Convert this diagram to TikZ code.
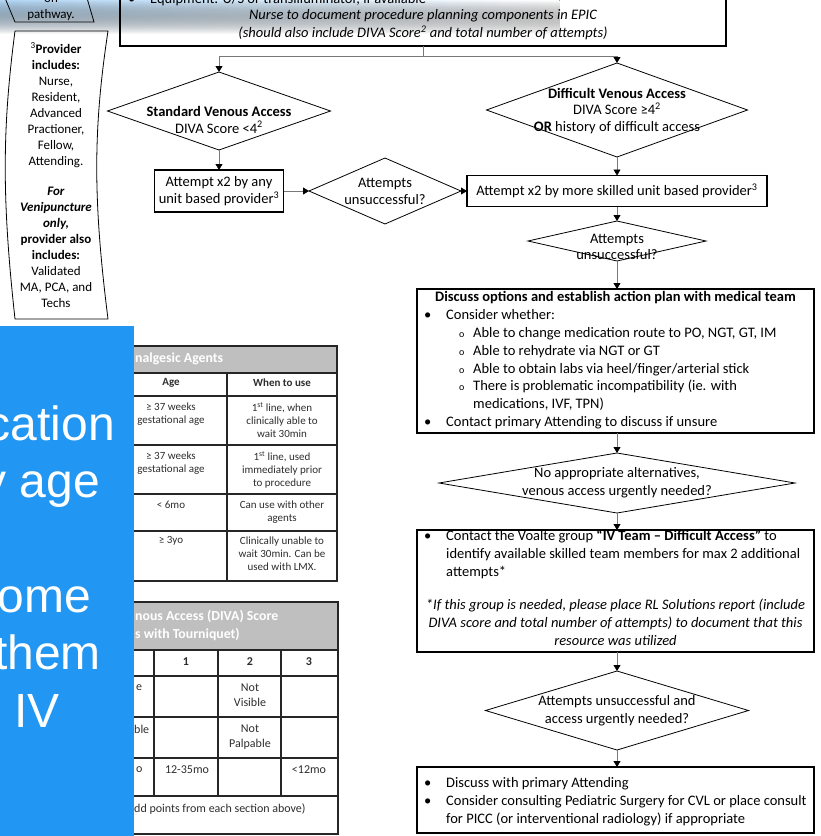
\documentclass[tikz,border=0pt]{standalone}
\usepackage{fontspec}
\setmainfont{Carlito}
\newfontfamily\slidefont{Liberation Sans}
\usetikzlibrary{shapes.geometric,arrows.meta,fadings}

\definecolor{panelblue}{RGB}{33,150,243}
\definecolor{hazeblue}{RGB}{178,214,244}
\definecolor{headgray}{RGB}{191,191,191}
\definecolor{linkgray}{RGB}{120,120,120}
\definecolor{tabink}{RGB}{45,45,45}

\newcommand\flowsz{\fontsize{14.5}{17.7}\selectfont}
\newcommand\diasz{\fontsize{14.5}{17}\selectfont}
\newcommand\sidesz{\fontsize{13}{16}\selectfont}
\newcommand\tabsz{\fontsize{11}{13.2}\selectfont}
\newcommand\divasz{\fontsize{12}{15}\selectfont}

\tikzfading[name=hazefade, top color=transparent!0, bottom color=transparent!100]

\tikzset{
  frame/.style={draw=black, line width=1.1pt, inner sep=0pt, outer sep=0pt},
  decision/.style={diamond, draw=black, line width=0.8pt, inner sep=0pt, outer sep=0pt},
  link/.style={draw=linkgray, line width=0.8pt, -{Triangle[width=7pt,length=6pt,color=black]}},
  plainlink/.style={draw=linkgray, line width=0.8pt},
  ctext/.style={font=\diasz, inner sep=0pt, align=center},
  ltext/.style={font=\flowsz, inner sep=0pt, anchor=mid west},
  mtext/.style={font=\flowsz, inner sep=0pt, anchor=mid},
  subdot/.style={font=\fontsize{10}{10}\selectfont, inner sep=0pt, anchor=mid west},
  sidetext/.style={font=\sidesz, inner sep=0pt, align=center},
  tabtext/.style={font=\tabsz, text=tabink, inner sep=0pt, align=center, anchor=north},
  divatext/.style={font=\divasz, text=tabink, inner sep=0pt, align=center, anchor=north},
  headtext/.style={font=\fontsize{13.8}{18}\selectfont\bfseries, text=white, inner sep=0pt, anchor=mid west},
  tabrule/.style={draw=black!85, line width=1.2pt},
  slidetext/.style={font=\slidefont\fontsize{48}{57}\selectfont, text=white, inner sep=0pt}
}

\begin{document}
\begin{tikzpicture}[x=1pt,y=-1pt]
\useasboundingbox (0,0) rectangle (821,836);
\begin{scope}
\clip (0,0) rectangle (821,836);

% light haze along the upper edge
\fill[left color=hazeblue, right color=white, path fading=hazefade] (0,0) rectangle (560,34);

% side tab: "on pathway."
\draw[line width=0.8pt] (5,-2) -- (15,22) -- (94,22) -- (87,-2);
\node[sidetext] (ontab) at (51,-1) {on};
\node[sidetext] (pathtab) at (51,15) {pathway.};

% side note: provider list
\draw[line width=0.8pt] (15,31) -- (108,31) .. controls (93,130) and (93,200) .. (108,319)
  -- (15,319) .. controls (2,200) and (2,130) .. (15,31);
\node[sidetext] (providers) at (56,175) {\textsuperscript{3}\textbf{Provider}\\\textbf{includes:}\\Nurse,\\Resident,\\Advanced\\Practioner,\\Fellow,\\Attending.\\[14pt]
  \textbf{\textit{For}}\\\textbf{\textit{Venipuncture}}\\\textbf{\textit{only,}}\\\textbf{provider also}\\\textbf{includes:}\\Validated\\MA, PCA, and\\Techs};

% planning box at the top
\node[frame, minimum width=606, minimum height=70, anchor=south west] (topbox) at (120,46) {};
\node[ltext] (eqdot) at (128,1) {\textbullet};
\node[ltext] (eqline) at (150,1) {Equipment: U/S or transilluminator, if available};
\node[mtext, font=\flowsz\itshape] (epicline) at (423,17) {Nurse to document procedure planning components in EPIC};
\node[mtext, font=\flowsz\itshape] (scoreline) at (423,35) {(should also include DIVA Score\textsuperscript{2} and total number of attempts)};

% first split
\coordinate (fork) at (423,56);
\node[decision, minimum width=223, minimum height=78] (std) at (219,111) {};
\node[ctext] (stdtxt) at (219,119.5) {\textbf{Standard Venous Access}\\DIVA Score <4\textsuperscript{2}};
\node[decision, minimum width=261, minimum height=94] (dif) at (617,110) {};
\node[ctext, font=\fontsize{14.5}{16.2}\selectfont] (diftxt) at (617,111) {\textbf{Difficult Venous Access}\\DIVA Score ≥4\textsuperscript{2}\\\textbf{OR} history of difficult access};
\draw[plainlink] (topbox.south) -- (fork);
\draw[link] (fork) -| (std.north);
\draw[link] (fork) -| (dif.north);

% attempt row
\node[frame, minimum width=129, minimum height=42] (anyprov) at (219,191) {};
\node[ctext] (anytxt) at (219,191) {Attempt x2 by any\\unit based provider\textsuperscript{3}};
\node[decision, minimum width=152, minimum height=66] (fail1) at (385,191) {};
\node[ctext] (fail1txt) at (385,191) {Attempts\\unsuccessful?};
\node[frame, minimum width=300, minimum height=31] (skilled) at (617,191) {};
\node[ctext] (skilledtxt) at (617,191) {Attempt x2 by more skilled unit based provider\textsuperscript{3}};
\draw[link] (std.south) -- (anyprov.north);
\draw[link] (anyprov.east) -- (fail1.west);
\draw[link] (fail1.east) -- (skilled.west);
\draw[link] (dif.south) -- (skilled.north);

\node[decision, minimum width=178, minimum height=40] (fail2) at (617,241) {};
\node[ctext, font=\fontsize{14.5}{16.5}\selectfont] (fail2txt) at (617,247) {Attempts\\unsuccessful?};
\draw[link] (skilled.south) -- (fail2.north);

% action plan
\node[frame, minimum width=397, minimum height=144, anchor=north west] (plan) at (417,289) {};
\draw[link] (fail2.south) -- (fail2.south |- plan.north);
\node[mtext, font=\flowsz\bfseries] (plantitle) at (615.5,299) {Discuss options and establish action plan with medical team};
\node[ltext] (pdot1) at (424,317) {\textbullet};
\node[ltext] (pline1) at (446,317) {Consider whether:};
\node[subdot] (po1) at (459,335) {o};
\node[ltext] (pline2) at (473,335) {Able to change medication route to PO, NGT, GT, IM};
\node[subdot] (po2) at (459,353) {o};
\node[ltext] (pline3) at (473,353) {Able to rehydrate via NGT or GT};
\node[subdot] (po3) at (459,371) {o};
\node[ltext] (pline4) at (473,371) {Able to obtain labs via heel/finger/arterial stick};
\node[subdot] (po4) at (459,388) {o};
\node[ltext] (pline5) at (473,388) {There is problematic incompatibility (ie. with};
\node[ltext] (pline6) at (473,406) {medications, IVF, TPN)};
\node[ltext] (pdot2) at (424,424) {\textbullet};
\node[ltext] (pline7) at (446,424) {Contact primary Attending to discuss if unsure};

% urgency check
\node[decision, minimum width=356, minimum height=60] (urgent) at (617,483) {};
\node[ctext, font=\fontsize{14.5}{18}\selectfont] (urgenttxt) at (617,483) {No appropriate alternatives,\\venous access urgently needed?};
\draw[link] (urgent.north |- plan.south) -- (urgent.north);

% IV team box
\node[frame, minimum width=397, minimum height=122, anchor=north west] (team) at (417,530) {};
\draw[link] (urgent.south) -- (urgent.south |- team.north);
\node[ltext] (tdot) at (424,538) {\textbullet};
\node[ltext] (tline1) at (446,538) {Contact the Voalte group \textbf{“IV Team – Difficult Access”} to};
\node[ltext] (tline2) at (446,556) {identify available skilled team members for max 2 additional};
\node[ltext] (tline3) at (446,574) {attempts*};
\node[mtext, font=\flowsz\itshape] (tline4) at (615.5,607) {*If this group is needed, please place RL Solutions report (include};
\node[mtext, font=\flowsz\itshape] (tline5) at (615.5,625) {DIVA score and total number of attempts) to document that this};
\node[mtext, font=\flowsz\itshape] (tline6) at (615.5,643) {resource was utilized};

% last check and referral
\node[decision, minimum width=263, minimum height=79] (final) at (617,710.5) {};
\node[ctext, font=\fontsize{14.5}{18}\selectfont] (finaltxt) at (617,711) {Attempts unsuccessful and\\access urgently needed?};
\draw[link] (final.north |- team.south) -- (final.north);
\node[frame, minimum width=397, minimum height=66, anchor=north west] (refer) at (417,767) {};
\draw[link] (final.south) -- (final.south |- refer.north);
\node[ltext] (rdot1) at (424,785) {\textbullet};
\node[ltext] (rline1) at (446,785) {Discuss with primary Attending};
\node[ltext] (rdot2) at (424,803) {\textbullet};
\node[ltext] (rline2) at (446,803) {Consider consulting Pediatric Surgery for CVL or place consult};
\node[ltext] (rline3) at (446,821) {for PICC (or interventional radiology) if appropriate};

% analgesic agents table
\fill[headgray] (110,346) rectangle (337,373);
\draw[tabrule] (110,346) rectangle (337,581);
\foreach \ry in {373,396,445,494,531} \draw[tabrule] (110,\ry) -- (337,\ry);
\draw[tabrule] (227,373) -- (227,581);
\node[headtext] (aghead) at (135,360) {nalgesic Agents};
\node[tabtext, font=\tabsz\bfseries] (agage) at (171,378.5) {Age};
\node[tabtext, font=\tabsz\bfseries] (aguse) at (282,378.5) {When to use};
\node[tabtext] (ag1a) at (171,402.5) {≥ 37 weeks\\gestational age};
\node[tabtext] (ag1b) at (282,402.5) {1\textsuperscript{st} line, when\\clinically able to\\wait 30min};
\node[tabtext] (ag2a) at (171,451.5) {≥ 37 weeks\\gestational age};
\node[tabtext] (ag2b) at (282,451.5) {1\textsuperscript{st} line, used\\immediately prior\\to procedure};
\node[tabtext] (ag3a) at (171,500.5) {< 6mo};
\node[tabtext] (ag3b) at (282,500.5) {Can use with other\\agents};
\node[tabtext] (ag4a) at (171,536.5) {≥ 3yo};
\node[tabtext] (ag4b) at (282,536.5) {Clinically unable to\\wait 30min. Can be\\used with LMX.};

% DIVA score table
\fill[headgray] (110,602) rectangle (338,650);
\draw[tabrule] (110,602) rectangle (338,834);
\foreach \ry in {650,676,717,758,796} \draw[tabrule] (110,\ry) -- (338,\ry);
\foreach \rx in {154,218,281} \draw[tabrule] (\rx,650) -- (\rx,796);
\node[headtext] (divahead1) at (135,618) {nous Access (DIVA) Score};
\node[headtext] (divahead2) at (135,636) {s with Tourniquet)};
\node[divatext, font=\divasz\bfseries] (dv1) at (186,657) {1};
\node[divatext, font=\divasz\bfseries] (dv2) at (250,657) {2};
\node[divatext, font=\divasz\bfseries] (dv3) at (309,657) {3};
\node[divatext, anchor=north west] (dvrow1) at (136,684) {e};
\node[divatext] (dvvis) at (250,684) {Not\\Visible};
\node[divatext, anchor=north west] (dvrow2) at (134,725) {ble};
\node[divatext] (dvpalp) at (250,725) {Not\\Palpable};
\node[divatext, anchor=north west] (dvrow3) at (136,766) {o};
\node[divatext] (dvage1) at (187,766) {12-35mo};
\node[divatext] (dvage3) at (309,766) {<12mo};
\node[divatext, anchor=north west] (dvnote) at (134,804) {dd points from each section above)};

% blue slide panel
\fill[panelblue] (0,326) rectangle (134,836);
\node[slidetext, anchor=base east] (sl1) at (115,440) {cation};
\node[slidetext, anchor=base east] (sl2) at (100,497) {y age};
\node[slidetext, anchor=base east] (sl3) at (91,612) {ome};
\node[slidetext, anchor=base east] (sl4) at (101,669) {them};
\node[slidetext, anchor=base west] (sl5) at (14,727) {IV};
\end{scope}
\end{tikzpicture}
\end{document}
